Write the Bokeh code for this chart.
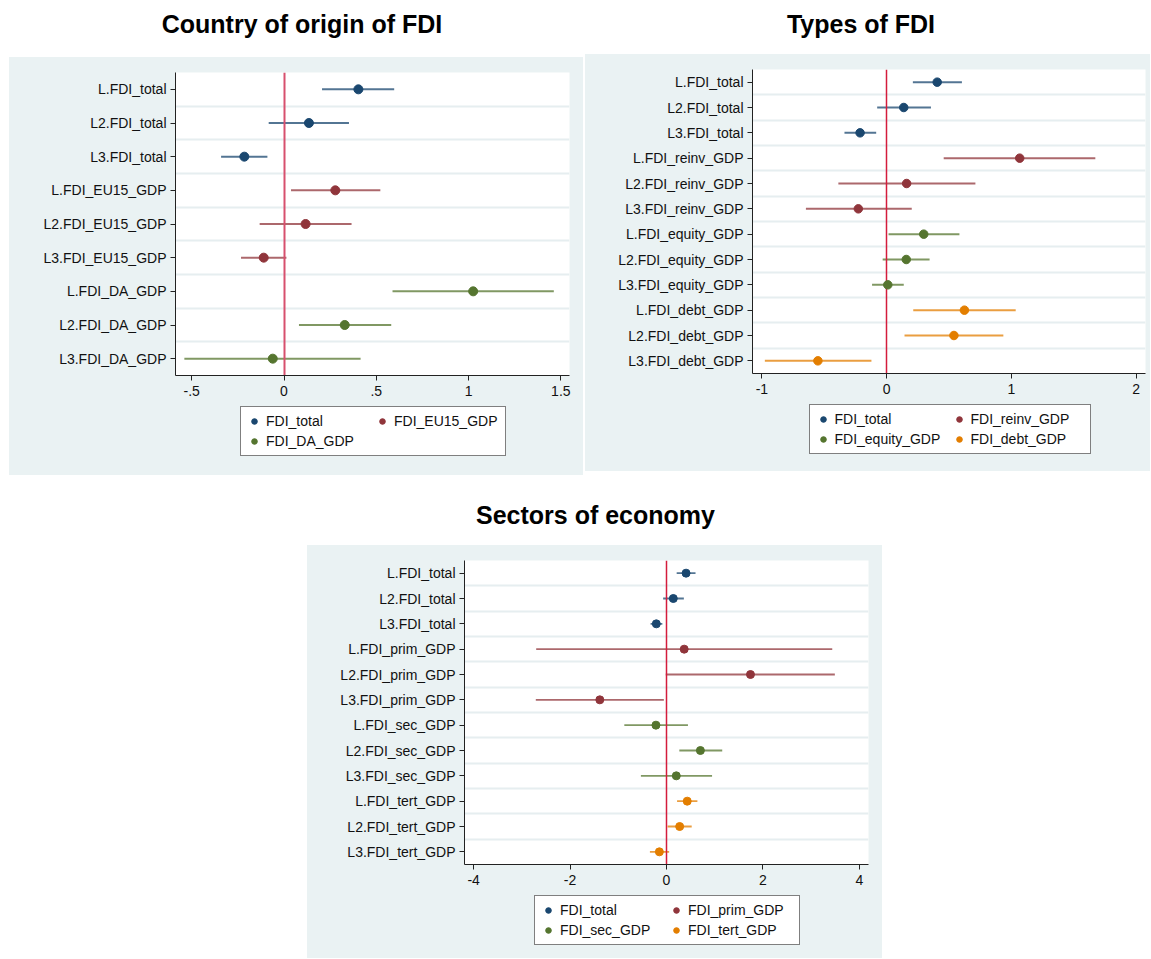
from bokeh.plotting import figure
from bokeh.models import (Range1d, FixedTicker, Legend, LegendItem, Spacer, Div)
from bokeh.layouts import row, column
from bokeh.embed import file_html
from bokeh.resources import INLINE

# ---------------- data ----------------
titles = ["Country of origin of FDI", "Types of FDI", "Sectors of economy"]

labels1 = ["L.FDI_total", "L2.FDI_total", "L3.FDI_total",
           "L.FDI_EU15_GDP", "L2.FDI_EU15_GDP", "L3.FDI_EU15_GDP",
           "L.FDI_DA_GDP", "L2.FDI_DA_GDP", "L3.FDI_DA_GDP"]
est1 = [0.403, 0.135, -0.215, 0.278, 0.117, -0.110, 1.025, 0.329, -0.061]
lo1 = [0.206, -0.083, -0.341, 0.038, -0.132, -0.233, 0.588, 0.081, -0.540]
hi1 = [0.597, 0.352, -0.090, 0.522, 0.366, 0.013, 1.462, 0.581, 0.415]
series1 = ["FDI_total", "FDI_EU15_GDP", "FDI_DA_GDP"]
xticks1 = [-0.5, 0, 0.5, 1, 1.5]
xlabels1 = ["-.5", "0", ".5", "1", "1.5"]

labels2 = ["L.FDI_total", "L2.FDI_total", "L3.FDI_total",
           "L.FDI_reinv_GDP", "L2.FDI_reinv_GDP", "L3.FDI_reinv_GDP",
           "L.FDI_equity_GDP", "L2.FDI_equity_GDP", "L3.FDI_equity_GDP",
           "L.FDI_debt_GDP", "L2.FDI_debt_GDP", "L3.FDI_debt_GDP"]
est2 = [0.405, 0.137, -0.213, 1.066, 0.160, -0.227, 0.297, 0.157, 0.009, 0.623, 0.539, -0.551]
lo2 = [0.210, -0.076, -0.338, 0.457, -0.387, -0.647, 0.015, -0.032, -0.117, 0.213, 0.143, -0.976]
hi2 = [0.603, 0.355, -0.084, 1.672, 0.711, 0.201, 0.583, 0.344, 0.137, 1.034, 0.935, -0.122]
series2 = ["FDI_total", "FDI_reinv_GDP", "FDI_equity_GDP", "FDI_debt_GDP"]
xticks2 = [-1, 0, 1, 2]
xlabels2 = ["-1", "0", "1", "2"]

labels3 = ["L.FDI_total", "L2.FDI_total", "L3.FDI_total",
           "L.FDI_prim_GDP", "L2.FDI_prim_GDP", "L3.FDI_prim_GDP",
           "L.FDI_sec_GDP", "L2.FDI_sec_GDP", "L3.FDI_sec_GDP",
           "L.FDI_tert_GDP", "L2.FDI_tert_GDP", "L3.FDI_tert_GDP"]
est3 = [0.406, 0.141, -0.211, 0.367, 1.742, -1.383, -0.219, 0.703, 0.203, 0.430, 0.273, -0.148]
lo3 = [0.211, -0.070, -0.330, -2.703, -0.016, -2.711, -0.875, 0.266, -0.531, 0.219, 0.023, -0.344]
hi3 = [0.602, 0.360, -0.086, 3.438, 3.492, -0.055, 0.445, 1.156, 0.945, 0.641, 0.523, 0.055]
series3 = ["FDI_total", "FDI_prim_GDP", "FDI_sec_GDP", "FDI_tert_GDP"]
xticks3 = [-4, -2, 0, 2, 4]
xlabels3 = ["-4", "-2", "0", "2", "4"]

# ---------------- style ----------------
COLORS = ["#1A476F", "#90353B", "#55752F", "#E37E00"]
PANEL_BG = "#EAF2F3"
GRID = "#E6EEF0"
FONT = "Liberation Sans"


def title_div(text, w, h, pad_left, pad_right, pad_top):
    html = (f'<div style="box-sizing:border-box; width:{w}px; height:{h}px; margin:0; '
            f'padding:{pad_top}px {pad_right}px 0 {pad_left}px; '
            f"font-family:'{FONT}'; font-weight:bold; font-size:25px; line-height:28px; "
            f'color:#000; text-align:center; white-space:nowrap;">{text}</div>')
    return Div(text=html, width=w, height=h, margin=0)


def panel(labels, est, lo, hi, series, xticks, xlabels, xr, w, h, borders,
          zero_color, zero_width, msize, lwidth):
    n = len(labels)
    ys = list(range(n, 0, -1))
    left, right, top, bottom = borders
    p = figure(width=w, height=h, x_range=Range1d(*xr), y_range=Range1d(0.5, n + 0.5),
               toolbar_location=None, output_backend="svg",
               min_border_left=left, min_border_right=right,
               min_border_top=top, min_border_bottom=bottom,
               styles={"background-color": PANEL_BG})
    p.title.visible = False
    p.background_fill_color = "white"
    p.border_fill_color = PANEL_BG
    p.outline_line_color = None

    p.xgrid.visible = False
    p.ygrid.ticker = FixedTicker(ticks=[k + 0.5 for k in range(1, n)])
    p.ygrid.grid_line_color = GRID
    p.ygrid.grid_line_width = 2

    p.yaxis.ticker = FixedTicker(ticks=ys)
    p.yaxis.major_label_overrides = {y: lab for y, lab in zip(ys, labels)}
    p.xaxis.ticker = FixedTicker(ticks=xticks)
    p.xaxis.major_label_overrides = {t: lab for t, lab in zip(xticks, xlabels)}
    for ax in (p.xaxis[0], p.yaxis[0]):
        ax.minor_tick_line_color = None
        ax.major_tick_in = 0
        ax.major_tick_out = 5
        ax.axis_line_color = "#222222"
        ax.major_tick_line_color = "#222222"
        ax.major_label_text_font = FONT
        ax.major_label_text_font_size = "14px"
        ax.major_label_text_color = "#111111"
    p.yaxis.major_label_standoff = 4
    p.xaxis.major_label_standoff = 5

    groups = [i // 3 for i in range(n)]
    idx = [[i for i in range(n) if groups[i] == g] for g in range(len(series))]
    for g, ii in enumerate(idx):
        p.segment(x0=[lo[i] for i in ii], x1=[hi[i] for i in ii],
                  y0=[ys[i] for i in ii], y1=[ys[i] for i in ii],
                  line_color=COLORS[g], line_width=lwidth, line_alpha=0.75)
    p.vspan(x=[0], line_color=zero_color, line_width=zero_width)
    for g, ii in enumerate(idx):
        p.scatter(x=[est[i] for i in ii], y=[ys[i] for i in ii], size=msize,
                  fill_color=COLORS[g], line_color=COLORS[g])
    return p, idx, ys


def legend_fig(series, est, idx, ys, w, h, frame_w, top_gap, label_width):
    # this figure sits under the panel in the same column, so its frame is
    # aligned with the panel's frame; the legend is centred on that frame
    lf = figure(width=w, height=h, x_range=Range1d(0, 1), y_range=Range1d(0, 1),
                x_axis_type=None, y_axis_type=None, toolbar_location=None,
                output_backend="svg", min_border=0,
                styles={"background-color": PANEL_BG})
    lf.title.visible = False
    lf.grid.visible = False
    lf.outline_line_color = None
    lf.background_fill_color = PANEL_BG
    lf.border_fill_color = PANEL_BG
    items = []
    for g, ii in enumerate(idx):
        r = lf.scatter(x=[est[i] for i in ii], y=[ys[i] for i in ii], size=8,
                       fill_color=COLORS[g], line_color=COLORS[g], visible=False)
        items.append(LegendItem(label=series[g], renderers=[r]))
    pad, spacing, gw, gh, standoff = 6, 4, 14, 16, 5
    leg_w = 2 * pad + 2 * (gw + standoff + label_width) + spacing
    leg_h = 2 * pad + 2 * gh + spacing
    leg = Legend(items=items, orientation="horizontal", ncols=2,
                 location=((frame_w - leg_w) / 2, h - top_gap - leg_h),
                 border_line_color="black", border_line_width=1,
                 background_fill_color="white", background_fill_alpha=1,
                 inactive_fill_alpha=0,
                 label_text_font=FONT, label_text_font_size="14px",
                 label_text_color="#111111",
                 padding=pad, spacing=spacing, glyph_width=gw, glyph_height=gh,
                 label_height=gh, label_standoff=standoff, label_width=label_width,
                 margin=0)
    lf.add_layout(leg, "center")
    return lf


p1, idx1, ys1 = panel(labels1, est1, lo1, hi1, series1, xticks1, xlabels1, (-0.588, 1.547),
                      574, 348, (166, 14, 15, 30), "#D7506E", 2, 9, 2)
p2, idx2, ys2 = panel(labels2, est2, lo2, hi2, series2, xticks2, xlabels2, (-1.075, 2.074),
                      565, 349, (167, 5, 15, 30), "#D41C3C", 1.5, 8.5, 2)
p3, idx3, ys3 = panel(labels3, est3, lo3, hi3, series3, xticks3, xlabels3, (-4.19, 4.19),
                      575, 349, (157, 14, 15, 30), "#D41C3C", 1.5, 8, 1.8)

l1 = legend_fig(series1, est1, idx1, ys1, 574, 70, 394, 3, 105)
l2 = legend_fig(series2, est2, idx2, ys2, 565, 68, 393, 3, 113)
l3 = legend_fig(series3, est3, idx3, ys3, 575, 64, 404, 3, 105)

t1 = title_div(titles[0], 574, 57, 12, 0, 10)
t2 = title_div(titles[1], 565, 54, 0, 13, 10)
t3 = title_div(titles[2], 575, 70, 2, 0, 26)

top = row(Spacer(width=9), column(t1, p1, l1), Spacer(width=2), column(t2, p2, l2))
bottom = row(Spacer(width=307), column(t3, p3, l3))
layout = column(top, bottom)

open("out.html", "w").write(file_html(layout, INLINE))
